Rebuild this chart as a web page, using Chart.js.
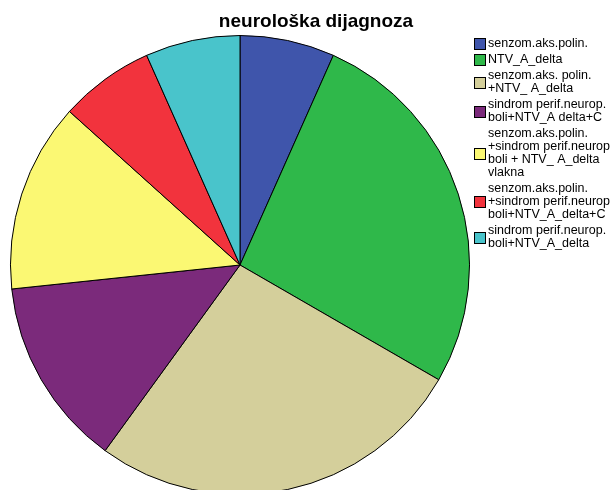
<!DOCTYPE html>
<html>
<head>
<meta charset="utf-8">
<script src="https://cdn.jsdelivr.net/npm/chart.js@4"></script>
<style>
  html, body { margin: 0; padding: 0; background: #fff; overflow: hidden; }
  #wrap { width: 614px; height: 500px; position: relative; }
</style>
</head>
<body>
<div id="wrap"><canvas id="my-chart" width="614" height="500"></canvas></div>
<script>
'use strict';

let chartTitle = 'neurološka dijagnoza';

// each label is split into the lines shown in the legend
let categoryLabels = [
  ['senzom.aks.polin.'],
  ['NTV_A_delta'],
  ['senzom.aks. polin.', '+NTV_ A_delta'],
  ['sindrom perif.neurop.', 'boli+NTV_A delta+C'],
  ['senzom.aks.polin.', '+sindrom perif.neurop', 'boli + NTV_ A_delta', 'vlakna'],
  ['senzom.aks.polin.', '+sindrom perif.neurop', 'boli+NTV_A_delta+C'],
  ['sindrom perif.neurop.', 'boli+NTV_A_delta']
];

let patientCounts = [1, 4, 4, 2, 2, 1, 1];

let sliceColors = ['#3f55ab', '#2fb84a', '#d4cf9b', '#7b2a7b', '#fbf873', '#f2333d', '#49c4cb'];

let canvasElement = document.getElementById('my-chart');

// draws title and the multi-line legend on the right
let decorPlugin = {
  id: 'decor',
  afterDraw(chart) {
    let ctx = chart.ctx;
    ctx.save();
    ctx.fillStyle = '#000';
    ctx.font = 'bold 19px "Liberation Sans", Arial, sans-serif';
    ctx.textAlign = 'center';
    ctx.textBaseline = 'middle';
    ctx.fillText(chartTitle, 316, 22);

    ctx.font = '12.5px "Liberation Sans", Arial, sans-serif';
    ctx.textAlign = 'left';
    let lineH = 13;
    let y = 44;
    for (let i = 0; i < categoryLabels.length; i++) {
      let lines = categoryLabels[i];
      let blockH = lines.length * lineH;
      let boxY = Math.round(y - lineH / 2 + blockH / 2 - 6);
      ctx.fillStyle = sliceColors[i];
      ctx.fillRect(474, boxY, 12, 12);
      ctx.strokeStyle = '#000';
      ctx.lineWidth = 1;
      ctx.strokeRect(474.5, boxY + 0.5, 11, 11);
      ctx.fillStyle = '#000';
      for (let j = 0; j < lines.length; j++) {
        ctx.fillText(lines[j], 488, y + j * lineH);
      }
      y += blockH + 3;
    }
    ctx.restore();
  }
};

function renderChart() {
  let chartObj = {
    type: 'pie',
    data: {
      labels: categoryLabels.map(l => l.join(' ')),
      datasets: [{
        data: patientCounts,
        backgroundColor: sliceColors,
        borderColor: '#000',
        borderWidth: 1
      }]
    },
    options: {
      responsive: false,
      animation: false,
      layout: {
        padding: { left: 10, right: 144, top: 35, bottom: 5 }
      },
      plugins: {
        legend: { display: false },
        title: { display: false },
        tooltip: { enabled: false }
      }
    },
    plugins: [decorPlugin]
  };
  new Chart(canvasElement, chartObj);//eslint-disable-line
}

renderChart();
</script>
</body>
</html>
